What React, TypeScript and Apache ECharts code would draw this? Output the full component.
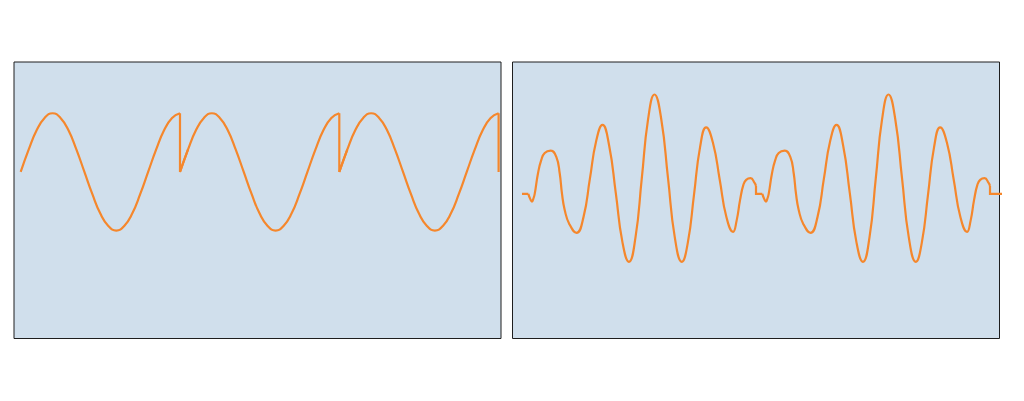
import { useEffect, useRef } from "react";
import * as echarts from "echarts";

const PANEL_FILL = "#d0dfec";
const PANEL_BORDER = "#1e1e1e";
const WAVE_COLOR = "#f5872c";

// left panel: one cycle of the repeating wave, sampled every half unit
const cycleValues = [
  0, 0.38, 0.71, 0.92, 1, 0.92, 0.71, 0.38, 0, -0.38, -0.71, -0.92, -1, -0.92,
  -0.71, -0.38, 0, 0.38, 0.71, 0.92, 1,
];
const cycleStep = 0.5;
const cycleCount = 3;
const leftXRange = [-0.42, 30.15];
const leftYRange = [-2.84, 1.874];

// right panel: one burst (after a flat lead-in), repeated twice
const burstTimes = [
  2.7, 3.5, 4.27, 4.9, 5.43, 6.84, 8.25, 9.7, 12.27, 14.66, 16.11, 17.1, 18.25,
  20.2, 23.3, 26.3, 29.0, 31.7, 34.4, 37.2, 40.1, 42.9, 45.7, 48.5, 51.2, 53.9,
  56.6, 59.5, 62.4, 65.3, 68.3, 70.9, 73.5, 76.1, 78.7, 81.6, 84.5, 87.3, 90.2,
  91.7, 93.2, 94.6, 95.8, 97.7, 99.4, 100,
];
const burstValues = [
  0, -0.05, -0.077, -0.045, 0, 0.207, 0.34, 0.41, 0.433, 0.37, 0.207, 0, -0.16,
  -0.3, -0.39, -0.23, 0.15, 0.53, 0.69, 0.49, 0.005, -0.48, -0.68, -0.435,
  0.157, 0.75, 0.995, 0.75, 0.157, -0.435, -0.68, -0.483, -0.01, 0.468, 0.665,
  0.512, 0.142, -0.227, -0.38, -0.27, -0.06, 0.09, 0.14, 0.157, 0.11, 0.08,
];
const burstPeriod = 100;
const burstCount = 2;
const burstTailEnd = 206;
const rightXRange = [-4.06, 204.06];
const rightYRange = [-1.447, 1.32];

type Pt = [number, number | null];

function buildLeft() {
  const curve: Pt[] = [];
  const jumps: Pt[] = [];
  const cycleLength = (cycleValues.length - 1) * cycleStep;
  const last = cycleValues.length - 1;
  for (let c = 0; c < cycleCount; c++) {
    const x0 = c * cycleLength;
    cycleValues.forEach((v, i) => curve.push([x0 + i * cycleStep, v]));
    curve.push([x0 + cycleLength, null]);
    const end = x0 + cycleLength;
    jumps.push([end, cycleValues[last]], [end, cycleValues[0]]);
    if (c < cycleCount - 1) jumps.push([end + cycleStep, cycleValues[1]]);
    jumps.push([end, null]);
  }
  return { curve, jumps };
}

function buildRight() {
  const curve: Pt[] = [];
  const flats: Pt[] = [
    [0, 0],
    [burstTimes[0], 0],
    [burstTimes[0], null],
  ];
  const last = burstValues.length - 1;
  for (let b = 0; b < burstCount; b++) {
    const x0 = b * burstPeriod;
    burstTimes.forEach((t, i) => curve.push([x0 + t, burstValues[i]]));
    curve.push([x0 + burstPeriod, null]);
    const end = x0 + burstPeriod;
    const flatEnd = b < burstCount - 1 ? end + burstTimes[0] : burstTailEnd;
    flats.push([end, burstValues[last]], [end, 0], [flatEnd, 0], [flatEnd, null]);
  }
  return { curve, flats };
}

function lineSeries(
  data: Pt[],
  axisIndex: number,
  smooth: number,
): echarts.LineSeriesOption {
  return {
    type: "line",
    xAxisIndex: axisIndex,
    yAxisIndex: axisIndex,
    data,
    smooth,
    connectNulls: false,
    symbol: "none",
    silent: true,
    clip: true,
    lineStyle: {
      color: WAVE_COLOR,
      width: 2.2,
      join: "miter",
      miterLimit: 10,
    },
    emphasis: { disabled: true },
  };
}

export default function App() {
  const chartRef = useRef<HTMLDivElement>(null);

  useEffect(() => {
    if (!chartRef.current) {
      return;
    }
    const chart = echarts.init(chartRef.current, undefined, { renderer: "svg" });

    const left = buildLeft();
    const right = buildRight();

    const panel = {
      top: 62,
      width: 487,
      height: 276.5,
      show: true,
      backgroundColor: PANEL_FILL,
      borderColor: PANEL_BORDER,
      borderWidth: 1,
      outerBoundsMode: "none",
    };

    chart.setOption({
      animation: false,
      grid: [
        { ...panel, left: 14 },
        { ...panel, left: 512.5 },
      ],
      xAxis: [
        { type: "value", gridIndex: 0, min: leftXRange[0], max: leftXRange[1], show: false },
        { type: "value", gridIndex: 1, min: rightXRange[0], max: rightXRange[1], show: false },
      ],
      yAxis: [
        { type: "value", gridIndex: 0, min: leftYRange[0], max: leftYRange[1], show: false },
        { type: "value", gridIndex: 1, min: rightYRange[0], max: rightYRange[1], show: false },
      ],
      series: [
        lineSeries(left.curve, 0, 0.5),
        lineSeries(left.jumps, 0, 0),
        lineSeries(right.curve, 1, 0.5),
        lineSeries(right.flats, 1, 0),
      ],
    } as echarts.EChartsOption);

    return () => {
      chart.dispose();
    };
  }, []);

  return (
    <div
      ref={chartRef}
      style={{ position: "fixed", left: 0, top: 0, width: 1024, height: 401, background: "#fff" }}
    />
  );
}
